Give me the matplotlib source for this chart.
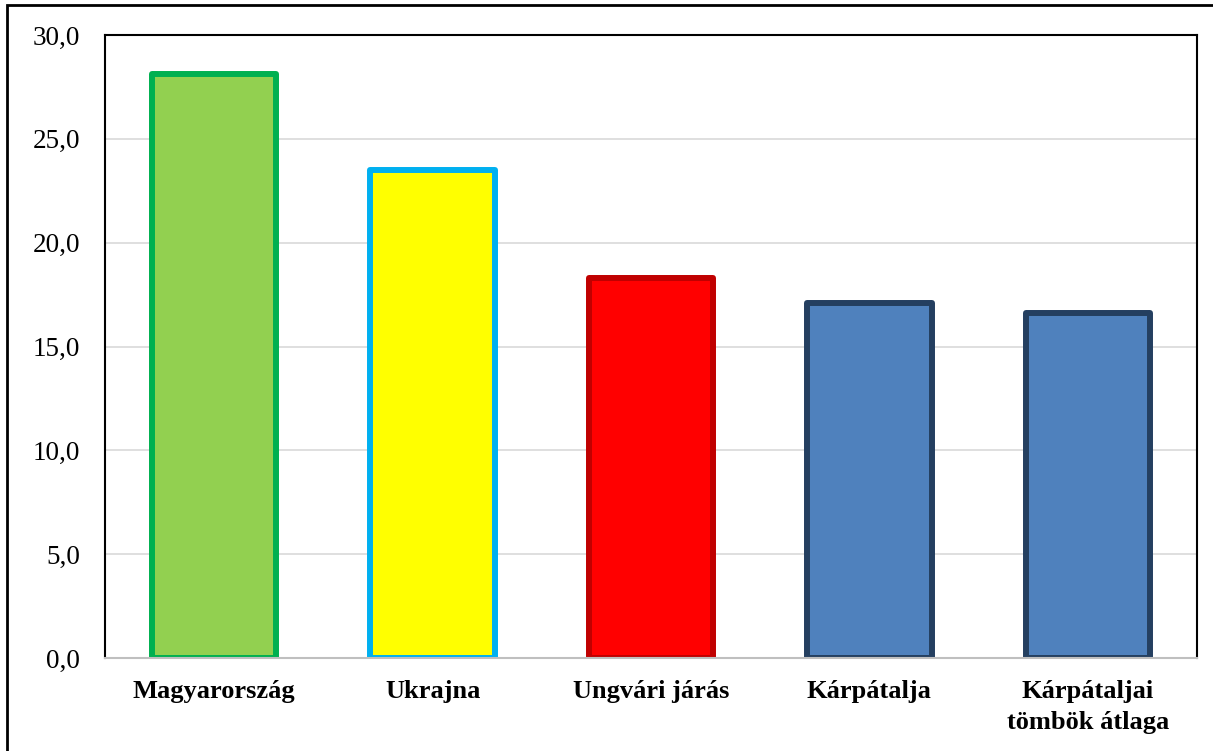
import matplotlib.pyplot as plt
from matplotlib.patches import Rectangle

categories = ["Magyarország", "Ukrajna", "Ungvári járás", "Kárpátalja", "Kárpátaljai\ntömbök átlaga"]
values = [28.1, 23.5, 18.3, 17.1, 16.6]
fill_colors = ["#92D050", "#FFFF00", "#FF0000", "#4F81BD", "#4F81BD"]
edge_colors = ["#00B050", "#00B0F0", "#C00000", "#243F60", "#243F60"]
yticks = [0, 5, 10, 15, 20, 25, 30]

plt.rcParams['font.family'] = ['Liberation Serif', 'DejaVu Serif']

fig = plt.figure(figsize=(12.13, 7.51), dpi=100)
ax = fig.add_axes([0.0866, 0.1238, 0.9002, 0.8296])

x = range(len(categories))
ax.bar(x, values, width=0.57, color=fill_colors, edgecolor=edge_colors,
       linewidth=4.3, joinstyle='round', zorder=3)

ax.set_xlim(-0.5, len(categories) - 0.5)
ax.set_ylim(0, 30)
ax.set_yticks(yticks)
ax.set_yticklabels([f"{t:.1f}".replace(".", ",") for t in yticks], fontsize=19.5)
ax.set_xticks(list(x))
ax.set_xticklabels(categories, fontsize=19, fontweight='bold', linespacing=1.45)
ax.tick_params(axis='y', length=0, pad=18)
ax.tick_params(axis='x', length=0, pad=16)

ax.grid(axis='y', color='#D9D9D9', linewidth=1.2, zorder=0)
for side in ['left', 'top', 'right']:
    ax.spines[side].set_color('black')
    ax.spines[side].set_linewidth(1.5)
ax.spines['bottom'].set_color('#BFBFBF')
ax.spines['bottom'].set_linewidth(1.5)
ax.spines['bottom'].set_zorder(4)

# outer chart frame
fig.patches.append(Rectangle((0.006, -0.01), 1.2, 1.003, transform=fig.transFigure,
                             fill=False, edgecolor='black', linewidth=2))

fig.savefig("out.png", dpi=100)
